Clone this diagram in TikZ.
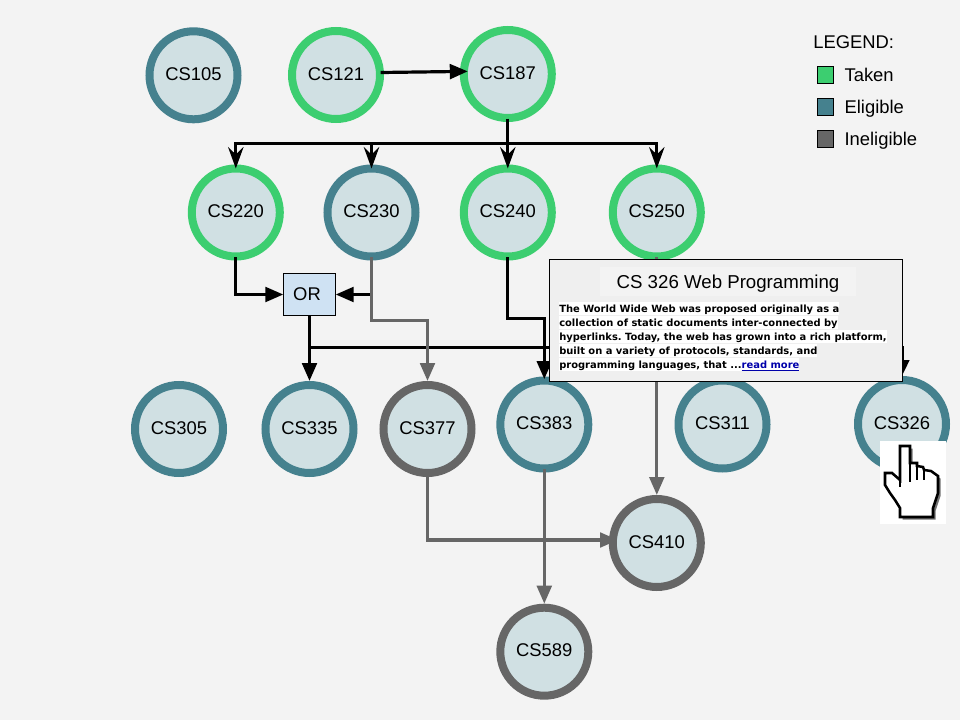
\documentclass[tikz,border=0pt]{standalone}
\usepackage{fontspec}
\setmainfont{Liberation Sans}
\newfontfamily\popupfont{DejaVu Sans}
\usetikzlibrary{arrows.meta}
\pgfdeclarelayer{under}
\pgfsetlayers{under,main}
\definecolor{takencol}{HTML}{3CCE70}
\definecolor{eligiblecol}{HTML}{45818E}
\definecolor{ineligiblecol}{HTML}{666666}
\definecolor{coursefill}{HTML}{D0E0E3}
\definecolor{orfill}{HTML}{CFE2F3}
\definecolor{pagebg}{HTML}{F3F3F3}
\definecolor{popupbg}{HTML}{EFEFEF}
\definecolor{linkcol}{HTML}{0000AA}
\tikzset{
  course/.style={circle,draw,line width=6pt,fill=coursefill,minimum size=66pt,inner sep=0pt,text height=9.9pt,text depth=2.2pt,font=\fontsize{13.8pt}{16pt}\selectfont},
  taken/.style={course,draw=takencol},
  eligible/.style={course,draw=eligiblecol},
  ineligible/.style={course,draw=ineligiblecol},
  reqline/.style={line width=2.4pt,shorten <=-2.6pt},
  req/.style={reqline,-{Triangle[length=13.5pt,width=11pt]}},
  reqbarb/.style={line width=2.4pt,shorten >=-3pt,-{Stealth[length=16pt,width=11.5pt,inset=5.5pt]}},
  soft/.style={req,draw=ineligiblecol},
  swatch/.style={draw=black,line width=.75pt,minimum width=12.4pt,minimum height=12.75pt,inner sep=0pt},
  legendtext/.style={anchor=base west,inner sep=0pt,font=\fontsize{13.8pt}{16pt}\selectfont},
  popupline/.style={anchor=base west,fill=white,inner sep=0pt,text height=7.5pt,text depth=2.25pt,font=\popupfont\bfseries\fontsize{7.45pt}{10pt}\selectfont}
}
\begin{document}
\frenchspacing
\begin{tikzpicture}[x=0.75pt,y=-0.75pt]
  \useasboundingbox (0,0) rectangle (960,720);
  \begin{pgfonlayer}{under}
    \fill[pagebg] (0,0) rectangle (960,720);
  \end{pgfonlayer}

  \node[eligible] (cs105) at (193.5,75.3) {CS105};
  \node[taken] (cs121) at (336,75) {CS121};
  \node[taken] (cs187) at (507.8,74) {CS187};
  \node[taken] (cs220) at (235.8,212.5) {CS220};
  \node[eligible] (cs230) at (371.5,212.5) {CS230};
  \node[taken] (cs240) at (507.8,212.5) {CS240};
  \node[taken] (cs250) at (656.8,212.5) {CS250};
  \node[eligible] (cs305) at (179,429) {CS305};
  \node[eligible] (cs335) at (309.5,429) {CS335};
  \node[ineligible] (cs377) at (427.5,429) {CS377};
  \node[eligible] (cs383) at (544.3,424.5) {CS383};
  \node[eligible] (cs311) at (722.5,424.5) {CS311};
  \node[eligible] (cs326) at (902,424) {CS326};
  \node[ineligible] (cs410) at (656.8,543) {CS410};
  \node[ineligible] (cs589) at (544.3,651.7) {CS589};

  \node[draw,fill=orfill,line width=.75pt,minimum width=38.5pt,minimum height=31pt,inner sep=0pt,font=\fontsize{13.8pt}{16pt}\selectfont] (or) at (309.5,294.5) {OR\hspace*{3.7pt}};

  \coordinate (splita) at (507.8,143.3);
  \coordinate (splitb) at (309.5,347.3);
  \coordinate (orright) at (371.5,294.5);
  \coordinate (elbowa) at (544.3,318.3);
  \coordinate (elbowb) at (427.5,320.3);
  \coordinate (cs410in) at (618,540);

  \begin{pgfonlayer}{under}
    \draw[soft,shorten <=0pt] (cs377.south) |- (cs410in);
  \end{pgfonlayer}

  \draw[req,shorten >=-6pt] ([yshift=1.9pt]cs121.east) -- ([yshift=1.9pt]cs187.west);
  \draw[reqline] (cs187.south) -- (splita);
  \draw[reqbarb] (splita) -| (cs220.north);
  \draw[reqbarb] (splita) -| (cs230.north);
  \draw[reqbarb] (splita) -- (cs240.north);
  \draw[reqbarb] (splita) -| (cs250.north);
  \draw[req] (cs220.south) |- (or.west);
  \draw[req,shorten <=0pt] (orright) -- (or.east);
  \draw[req,shorten <=0pt] (or.south) -- (cs335.north);
  \draw[req,shorten >=-2pt] (cs240.south) |- (elbowa) -- (cs383.north);
  \draw[reqline,shorten <=0pt,-{Triangle[length=12pt,width=10.8pt]}] (splitb) -| (cs326.north);

  \draw[soft] (cs230.south) |- (elbowb) -- (cs377.north);
  \draw[soft] (cs250.south) -- (cs410.north);
  \draw[soft] (cs383.south) -- (cs589.north);

  \node[legendtext] (legendhead) at (813,49) {LEGEND:};
  \node[swatch,fill=takencol] (keytaken) at (825.5,75) {};
  \node[swatch,fill=eligiblecol] (keyeligible) at (825.5,107) {};
  \node[swatch,fill=ineligiblecol] (keyineligible) at (825.5,139) {};
  \node[legendtext] (labtaken) at (844.3,82) {Taken};
  \node[legendtext] (labeligible) at (844.3,114) {Eligible};
  \node[legendtext] (labineligible) at (844.3,146) {Ineligible};

  \node[draw,fill=popupbg,line width=.75pt,minimum width=264.75pt,minimum height=91.5pt,inner sep=0pt] (popup) at (726.3,320.8) {};
  \node[fill=pagebg,minimum width=192pt,minimum height=21.5pt,inner sep=0pt,text height=10pt,text depth=0pt,font=\fontsize{14pt}{16pt}\selectfont] (popuptitle) at (728,281.7) {CS 326 Web Programming};
  \node[popupline] (lineone) at (559,312.2) {The World Wide Web was proposed originally as a};
  \node[popupline] (linetwo) at (559,326.2) {collection of static documents inter-connected by};
  \node[popupline] (linethree) at (559,340.2) {hyperlinks. Today, the web has grown into a rich platform,};
  \node[popupline] (linefour) at (559,354.2) {built on a variety of protocols, standards, and};
  \node[popupline] (linefive) at (559,368.2) {programming languages, that ...\textcolor{linkcol}{\underline{read more}}};

  \fill[white] (880,441) rectangle (946,524);
  \fill[black!55,xshift=2pt,yshift=-2pt] (900,446) -- (910,446) -- (910,463) -- (917,463) -- (917,466) -- (923,467) -- (924,470) -- (931,471) -- (938,476) -- (938,493) -- (933,508) -- (933,517) -- (900,517) -- (900,508) -- (895,500) -- (890,493) -- (885,485) -- (885,473) -- (892,473) -- (900,480) -- cycle;
  \draw[fill=white,line width=1.9pt,line join=miter] (900,446) -- (910,446) -- (910,463) -- (917,463) -- (917,466) -- (923,467) -- (924,470) -- (931,471) -- (938,476) -- (938,493) -- (933,508) -- (933,517) -- (900,517) -- (900,508) -- (895,500) -- (890,493) -- (885,485) -- (885,473) -- (892,473) -- (900,480) -- cycle;
  \draw[line width=1.4pt] (910,463) -- (910,482);
  \draw[line width=1.4pt] (917,466) -- (917,480);
  \draw[line width=1.4pt] (924,470) -- (924,480);
  \draw[line width=1.4pt] (900,480) -- (900,487);
\end{tikzpicture}
\end{document}
